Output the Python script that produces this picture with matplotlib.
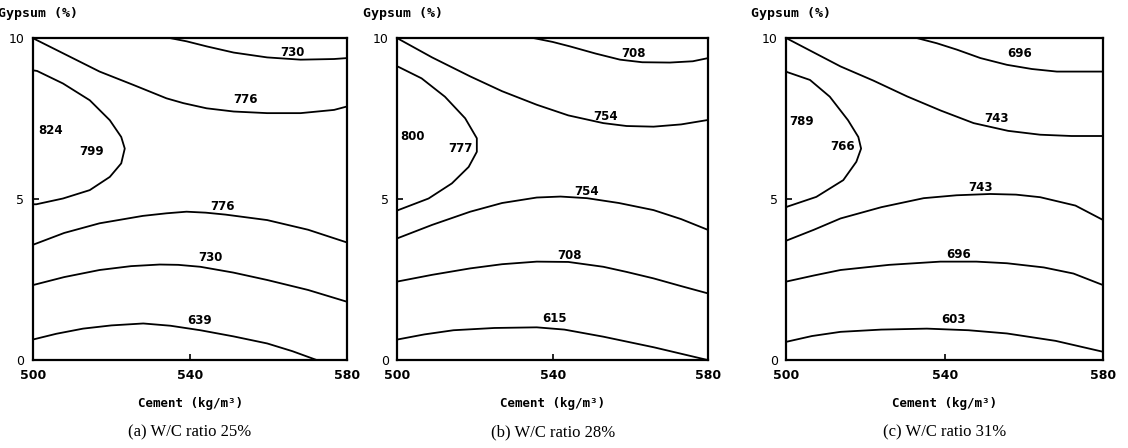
import matplotlib.pyplot as plt

# ---- data (cement kg/m3, gypsum %) ----
# panel (a) W/C 25%
a_lines_x = [
    [534.9, 539.1, 544.3, 551.1, 559.6, 568.1, 576.6, 580.0],
    [500.0, 508.5, 517.0, 525.5, 534.0, 538.3, 544.2, 551.1, 559.6, 568.1, 576.6, 580.0],
    [500.0, 501.1, 507.7, 514.5, 519.6, 522.5, 523.4, 522.5, 519.6, 514.5, 507.7, 500.9, 500.0],
    [500.0, 508.0, 517.0, 528.0, 534.0, 539.1, 544.0, 549.0, 559.6, 570.0, 580.0],
    [500.0, 508.0, 517.0, 525.0, 532.3, 537.0, 542.6, 551.0, 559.6, 570.0, 580.0],
    [500.0, 506.0, 512.8, 520.0, 528.1, 535.0, 542.6, 551.0, 559.6, 566.0, 572.3],
]
a_lines_y = [
    [10.0, 9.90, 9.74, 9.55, 9.40, 9.33, 9.35, 9.38],
    [10.0, 9.48, 8.96, 8.55, 8.13, 7.98, 7.82, 7.72, 7.67, 7.67, 7.77, 7.88],
    [9.0, 8.98, 8.59, 8.07, 7.45, 6.93, 6.57, 6.11, 5.69, 5.28, 5.02, 4.84, 4.84],
    [3.58, 3.95, 4.25, 4.48, 4.56, 4.61, 4.58, 4.52, 4.35, 4.05, 3.65],
    [2.33, 2.58, 2.80, 2.92, 2.97, 2.96, 2.90, 2.72, 2.49, 2.18, 1.81],
    [0.64, 0.82, 0.98, 1.08, 1.14, 1.07, 0.93, 0.74, 0.52, 0.28, 0.0],
]
a_labels = ["730", "776", "824", "799", "776", "730", "639"]
a_label_x = [566.0, 554.0, 504.5, 515.0, 548.3, 545.1, 542.3]
a_label_y = [9.55, 8.08, 7.12, 6.48, 4.77, 3.18, 1.24]

# panel (b) W/C 28%
b_lines_x = [
    [535.1, 540.0, 544.5, 551.0, 557.3, 563.0, 570.1, 576.0, 580.0],
    [500.0, 509.0, 518.8, 527.0, 535.9, 544.0, 553.0, 559.0, 565.9, 573.0, 580.0],
    [500.0, 500.3, 506.3, 512.3, 517.5, 520.5, 520.5, 518.4, 514.1, 508.1, 500.3, 500.0],
    [500.0, 509.0, 518.8, 527.0, 535.9, 542.0, 548.8, 557.0, 565.9, 573.0, 580.0],
    [500.0, 509.0, 518.8, 527.0, 535.9, 544.0, 553.0, 559.0, 565.9, 573.0, 580.0],
    [500.0, 507.0, 514.5, 525.0, 535.9, 543.0, 553.0, 566.0, 580.0],
]
b_lines_y = [
    [10.0, 9.88, 9.74, 9.52, 9.33, 9.25, 9.24, 9.28, 9.38],
    [10.0, 9.40, 8.81, 8.35, 7.93, 7.60, 7.36, 7.27, 7.25, 7.32, 7.46],
    [9.12, 9.11, 8.75, 8.18, 7.51, 6.89, 6.47, 6.00, 5.49, 5.02, 4.66, 4.64],
    [3.78, 4.20, 4.61, 4.88, 5.05, 5.08, 5.03, 4.88, 4.66, 4.38, 4.04],
    [2.44, 2.65, 2.85, 2.98, 3.06, 3.05, 2.90, 2.74, 2.54, 2.30, 2.07],
    [0.64, 0.80, 0.93, 1.00, 1.02, 0.95, 0.73, 0.40, 0.0],
]
b_labels = ["708", "754", "800", "777", "754", "708", "615"]
b_label_x = [560.7, 553.5, 504.0, 516.4, 548.8, 544.2, 540.6]
b_label_y = [9.53, 7.56, 6.94, 6.56, 5.23, 3.26, 1.30]

# panel (c) W/C 31%
c_lines_x = [
    [533.0, 538.0, 543.1, 549.0, 555.7, 562.0, 568.3, 580.0],
    [500.0, 507.0, 513.7, 522.0, 530.5, 539.0, 547.3, 556.0, 564.1, 572.0, 580.0],
    [500.0, 500.1, 506.0, 511.0, 515.6, 518.2, 518.9, 517.7, 514.4, 507.6, 500.1, 500.0],
    [500.0, 507.0, 513.7, 524.0, 534.7, 543.0, 551.5, 558.0, 564.1, 573.0, 580.0],
    [500.0, 507.0, 513.7, 526.0, 538.9, 548.0, 555.7, 565.0, 572.5, 580.0],
    [500.0, 506.5, 513.7, 524.0, 535.5, 546.0, 555.7, 568.0, 580.0],
]
c_lines_y = [
    [10.0, 9.84, 9.64, 9.38, 9.17, 9.04, 8.96, 8.96],
    [10.0, 9.55, 9.12, 8.68, 8.19, 7.75, 7.36, 7.12, 7.0, 6.96, 6.96],
    [8.98, 8.95, 8.70, 8.18, 7.45, 6.93, 6.57, 6.16, 5.59, 5.07, 4.76, 4.74],
    [3.71, 4.05, 4.40, 4.75, 5.03, 5.12, 5.16, 5.14, 5.06, 4.80, 4.35],
    [2.44, 2.63, 2.80, 2.96, 3.06, 3.06, 3.01, 2.88, 2.69, 2.33],
    [0.57, 0.75, 0.88, 0.95, 0.98, 0.93, 0.83, 0.60, 0.26],
]
c_labels = ["696", "743", "789", "766", "743", "696", "603"]
c_label_x = [558.9, 553.1, 503.8, 514.1, 549.1, 543.5, 542.2]
c_label_y = [9.53, 7.51, 7.41, 6.63, 5.37, 3.29, 1.26]

captions = ["(a) W/C ratio 25%", "(b) W/C ratio 28%", "(c) W/C ratio 31%"]
x_ticks = [500, 540, 580]
y_ticks = [0, 5, 10]

panels = [
    (a_lines_x, a_lines_y, a_labels, a_label_x, a_label_y),
    (b_lines_x, b_lines_y, b_labels, b_label_x, b_label_y),
    (c_lines_x, c_lines_y, c_labels, c_label_x, c_label_y),
]

# axes rectangles in figure fractions (left, bottom, width, height)
rects = [
    (0.029, 0.196, 0.279, 0.719),
    (0.352, 0.196, 0.276, 0.719),
    (0.697, 0.196, 0.281, 0.719),
]

fig = plt.figure(figsize=(11.28, 4.48), dpi=100)

for (lx, ly, labs, tx, ty), rect, cap in zip(panels, rects, captions):
    ax = fig.add_axes(rect)
    for xs, ys in zip(lx, ly):
        ax.plot(xs, ys, color="black", lw=1.3, solid_joinstyle="round")
    for s, x, y in zip(labs, tx, ty):
        ax.text(x, y, s, ha="center", va="center", fontsize=8.5,
                fontweight="bold", color="black")

    ax.set_xlim(500, 580)
    ax.set_ylim(0, 10)
    ax.set_xticks(x_ticks)
    ax.set_yticks(y_ticks)
    ax.set_xticklabels([str(v) for v in x_ticks], fontweight="bold", fontsize=9)
    ax.set_yticklabels([str(v) for v in y_ticks], fontsize=9)
    ax.tick_params(direction="in", length=4, width=1.2, pad=6)
    for sp in ax.spines.values():
        sp.set_linewidth(1.6)

    ax.text(-0.11, 1.055, "Gypsum (%)", transform=ax.transAxes, ha="left",
            va="bottom", fontsize=9.5, fontweight="bold",
            family="DejaVu Sans Mono", clip_on=False)
    ax.text(0.5, -0.135, "Cement (kg/m³)", transform=ax.transAxes,
            ha="center", va="center", fontsize=9, fontweight="bold",
            family="DejaVu Sans Mono")
    ax.text(0.5, -0.225, cap, transform=ax.transAxes, ha="center",
            va="center", fontsize=12, family="Liberation Serif")

fig.savefig("out.png", dpi=100)
